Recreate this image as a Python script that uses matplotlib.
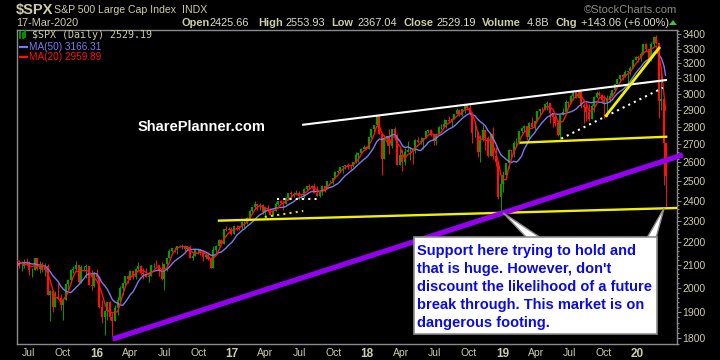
import numpy as np
import pandas as pd
import matplotlib
matplotlib.use('Agg')
import matplotlib.pyplot as plt
import matplotlib.dates as mdates
from matplotlib.patches import Rectangle, Polygon
from matplotlib.lines import Line2D

plt.rcParams['font.family'] = ['Liberation Sans', 'DejaVu Sans']

W, H = 720, 360
TAN = '#cdcda6'
FRAME = '#8a8a8a'
GREEN = '#00a000'
RED = '#ff1010'
BLUE = '#7a7af0'

# $SPX weekly bars (week ending Friday)
close_pre = [2061, 2067, 2102, 2081, 2117, 2108, 2116, 2123, 2126, 2107]
high_pre = [2114, 2089, 2102, 2111, 2120, 2126, 2117, 2126, 2135, 2132]
low_pre = [2055, 2046, 2067, 2073, 2073, 2077, 2067, 2099, 2120, 2099]

close_2015 = [2092, 2094, 2110, 2101, 2077, 2077, 2127, 2079, 2104, 2078, 2092, 1971, 1989, 1921, 1961,
              1958, 1931, 1951, 2015, 2033, 2075, 2079, 2099, 2023, 2089, 2090, 2092, 2012, 2006, 2061]
high_2015 = [2121, 2115, 2126, 2130, 2115, 2083, 2128, 2128, 2114, 2113, 2105, 2103, 1990, 1986, 1988,
             2021, 1974, 1952, 2020, 2034, 2080, 2094, 2116, 2100, 2097, 2095, 2104, 2090, 2077, 2067]
low_2015 = [2085, 2072, 2084, 2097, 2056, 2044, 2075, 2077, 2063, 2067, 2052, 1970, 1867, 1903, 1921,
            1953, 1909, 1872, 1953, 1990, 2019, 2062, 2077, 2022, 2019, 2070, 2042, 2011, 1993, 2005]

close_2016 = [2044, 1922, 1880, 1907, 1940, 1880, 1865, 1918, 1948, 2000, 2022, 2050, 2036, 2073, 2048,
              2081, 2092, 2065, 2057, 2047, 2052, 2099, 2099, 2096, 2071, 2037, 2103, 2130, 2162, 2175,
              2174, 2183, 2184, 2184, 2169, 2180, 2128, 2139, 2165, 2168, 2153, 2133, 2141, 2126, 2085,
              2164, 2182, 2213, 2192, 2260, 2258, 2264, 2239]
high_2016 = [2081, 2038, 1950, 1908, 1940, 1947, 1896, 1930, 1962, 2009, 2022, 2052, 2056, 2075, 2076,
             2084, 2111, 2099, 2083, 2085, 2067, 2100, 2105, 2120, 2097, 2113, 2104, 2131, 2169, 2176,
             2178, 2183, 2188, 2193, 2187, 2184, 2187, 2150, 2175, 2175, 2169, 2163, 2153, 2151, 2133,
             2182, 2189, 2214, 2214, 2260, 2278, 2270, 2273]
low_2016 = [2043, 1918, 1857, 1812, 1872, 1872, 1810, 1871, 1891, 1932, 1969, 2011, 2022, 2032, 2039,
            2039, 2073, 2053, 2039, 2046, 2026, 2053, 2085, 2095, 2051, 2033, 1992, 2074, 2132, 2155,
            2155, 2147, 2178, 2170, 2160, 2165, 2127, 2119, 2136, 2145, 2142, 2115, 2124, 2120, 2084,
            2084, 2151, 2183, 2187, 2192, 2253, 2258, 2234]

close_2017 = [2277, 2275, 2271, 2295, 2297, 2316, 2351, 2367, 2383, 2373, 2378, 2344, 2363, 2355, 2329,
              2349, 2384, 2399, 2391, 2382, 2416, 2439, 2432, 2433, 2438, 2423, 2425, 2459, 2473, 2472,
              2477, 2441, 2426, 2443, 2477, 2461, 2500, 2502, 2519, 2549, 2553, 2575, 2581, 2588, 2582,
              2579, 2602, 2642, 2652, 2675, 2684, 2674]
high_2017 = [2282, 2279, 2276, 2300, 2299, 2319, 2352, 2368, 2401, 2385, 2390, 2385, 2371, 2378, 2363,
             2362, 2392, 2399, 2404, 2406, 2418, 2440, 2447, 2446, 2453, 2450, 2434, 2464, 2477, 2484,
             2478, 2490, 2474, 2454, 2480, 2471, 2500, 2509, 2519, 2552, 2557, 2575, 2582, 2588, 2597,
             2587, 2605, 2657, 2652, 2679, 2695, 2692]
low_2017 = [2245, 2258, 2259, 2262, 2267, 2288, 2311, 2345, 2361, 2355, 2355, 2335, 2322, 2344, 2328,
            2323, 2374, 2378, 2387, 2353, 2386, 2403, 2415, 2418, 2431, 2405, 2408, 2416, 2456, 2459,
            2466, 2437, 2425, 2417, 2429, 2446, 2474, 2496, 2488, 2520, 2542, 2548, 2544, 2566, 2566,
            2557, 2576, 2598, 2605, 2652, 2676, 2673]

close_2018 = [2743, 2786, 2810, 2873, 2762, 2620, 2732, 2747, 2691, 2786, 2752, 2588, 2641, 2604, 2656,
              2670, 2670, 2663, 2728, 2713, 2721, 2735, 2779, 2780, 2755, 2718, 2760, 2801, 2802, 2819,
              2840, 2833, 2850, 2875, 2902, 2872, 2905, 2930, 2914, 2886, 2767, 2768, 2659, 2723, 2781,
              2736, 2633, 2760, 2633, 2600, 2417, 2486]
high_2018 = [2743, 2787, 2810, 2873, 2870, 2763, 2755, 2747, 2789, 2786, 2802, 2761, 2674, 2672, 2680,
             2718, 2683, 2676, 2732, 2743, 2742, 2736, 2779, 2791, 2789, 2753, 2763, 2804, 2816, 2848,
             2841, 2863, 2852, 2876, 2916, 2909, 2908, 2941, 2940, 2940, 2889, 2817, 2778, 2756, 2815,
             2784, 2747, 2760, 2800, 2685, 2608, 2520]
low_2018 = [2682, 2737, 2769, 2808, 2759, 2533, 2617, 2699, 2647, 2681, 2742, 2585, 2594, 2553, 2586,
            2666, 2612, 2594, 2652, 2707, 2701, 2676, 2735, 2765, 2749, 2698, 2698, 2770, 2787, 2800,
            2796, 2830, 2802, 2850, 2884, 2864, 2868, 2886, 2903, 2874, 2710, 2742, 2628, 2603, 2717,
            2671, 2631, 2649, 2621, 2583, 2409, 2346]

close_2019 = [2532, 2596, 2671, 2665, 2707, 2708, 2776, 2793, 2804, 2743, 2822, 2801, 2834, 2893, 2907,
              2905, 2940, 2946, 2881, 2860, 2826, 2752, 2873, 2887, 2950, 2942, 2990, 3014, 2977, 3026,
              2932, 2919, 2889, 2847, 2926, 2979, 3007, 2992, 2962, 2952, 2970, 2986, 3023, 3067, 3093,
              3120, 3110, 3141, 3146, 3169, 3221, 3240]
high_2019 = [2553, 2598, 2675, 2671, 2717, 2738, 2776, 2793, 2813, 2808, 2830, 2860, 2838, 2894, 2910,
             2918, 2940, 2954, 2938, 2875, 2875, 2841, 2876, 2911, 2964, 2958, 2995, 3014, 3018, 3028,
             3027, 2945, 2943, 2939, 2940, 2985, 3021, 3022, 3003, 2993, 2993, 3008, 3027, 3067, 3097,
             3120, 3127, 3154, 3146, 3183, 3226, 3247]
low_2019 = [2444, 2525, 2570, 2613, 2631, 2688, 2703, 2764, 2774, 2723, 2738, 2800, 2785, 2850, 2872,
            2896, 2900, 2900, 2825, 2801, 2805, 2750, 2728, 2874, 2883, 2912, 2952, 2966, 2975, 2973,
            2914, 2822, 2834, 2834, 2853, 2891, 2973, 2990, 2946, 2855, 2892, 2952, 2992, 3014, 3066,
            3078, 3091, 3117, 3070, 3124, 3183, 3223]

# last entry is the partial week Mar 16-17
close_2020 = [3235, 3265, 3330, 3295, 3226, 3328, 3380, 3338, 2954, 2972, 2711, 2529]
high_2020 = [3259, 3275, 3330, 3338, 3285, 3347, 3385, 3393, 3259, 3137, 2882, 2563]
low_2020 = [3210, 3214, 3263, 3280, 3214, 3216, 3315, 3328, 2856, 2901, 2478, 2367]

# trendlines drawn on the chart: (date, price) -> (date, price)
white_line = [('2017-07-09', 2813), ('2020-03-21', 3090)]
white_dotted = [('2019-06-09', 2733), ('2020-03-10', 3040)]
white_dotted_2017 = [('2017-05-02', 2409), ('2017-08-26', 2409)]
yellow_support = [('2016-11-23', 2302), ('2020-04-17', 2364)]
yellow_mid = [('2019-02-17', 2710), ('2020-03-22', 2744)]
yellow_steep = [('2019-10-06', 2861), ('2020-03-02', 3311)]
yellow_dotted_2017 = [('2017-03-30', 2320), ('2017-07-12', 2349)]
purple_line = [('2016-02-13', 1797), ('2020-05-03', 2642)]
callout_targets = [('2019-01-03', 2340), ('2020-03-13', 2363)]

y_ticks = list(range(1800, 3500, 100))
x_tick_dates = ['2015-07-01', '2015-10-01', '2016-01-01', '2016-04-01', '2016-07-01', '2016-10-01',
                '2017-01-01', '2017-04-01', '2017-07-01', '2017-10-01', '2018-01-01', '2018-04-01',
                '2018-07-01', '2018-10-01', '2019-01-01', '2019-04-01', '2019-07-01', '2019-10-01',
                '2020-01-01']
x_tick_labels = ['Jul', 'Oct', '16', 'Apr', 'Jul', 'Oct', '17', 'Apr', 'Jul', 'Oct', '18', 'Apr',
                 'Jul', 'Oct', '19', 'Apr', 'Jul', 'Oct', '20']

note_lines = ["Support here trying to hold and", "that is huge. However, don't",
              "discount the likelihood of a future", "break through. This market is on",
              "dangerous footing."]

close = close_pre + close_2015 + close_2016 + close_2017 + close_2018 + close_2019 + close_2020
high = high_pre + high_2015 + high_2016 + high_2017 + high_2018 + high_2019 + high_2020
low = low_pre + low_2015 + low_2016 + low_2017 + low_2018 + low_2019 + low_2020
dates = pd.date_range('2015-03-27', periods=len(close) - 1, freq='W-FRI').append(
    pd.DatetimeIndex(['2020-03-17']))

s = pd.Series(close, index=dates, dtype=float)
ma50 = s.rolling('70D').mean()
ma20 = s.rolling('28D').mean()

close_a = np.array(close, dtype=float)
open_a = np.concatenate([[close_a[0]], close_a[:-1]])
hi_a = np.maximum(np.array(high, dtype=float), np.maximum(open_a, close_a))
lo_a = np.minimum(np.array(low, dtype=float), np.minimum(open_a, close_a))
cols = np.where(close_a >= open_a, GREEN, RED)
xd = mdates.date2num(dates)


def dn(d):
    return mdates.date2num(pd.Timestamp(d))


def fpx(x, y):
    # image pixel (from top-left) -> figure fraction
    return (x / W, 1 - y / H)


fig = plt.figure(figsize=(W / 100, H / 100), dpi=100, facecolor='black')
ax = fig.add_axes([16.5 / W, 1 - 344 / H, (677 - 16.5) / W, (344 - 29.5) / H])
ax.set_facecolor('black')
ax.set_yscale('log')

# candles
ax.vlines(xd, lo_a, hi_a, colors=cols, lw=0.7, zorder=2)
ax.vlines(xd, open_a, close_a, colors=cols, lw=1.6, zorder=2)

# moving averages
ax.plot(xd, ma50.values, color=BLUE, lw=1.0, zorder=3)
ax.plot(xd, ma20.values, color=RED, lw=1.0, zorder=3)


def trend(pts, color, lw, ls='-', clip=True, z=4):
    (d0, p0), (d1, p1) = pts
    ax.plot([dn(d0), dn(d1)], [p0, p1], color=color, lw=lw, ls=ls, clip_on=clip,
            solid_capstyle='butt', dash_capstyle='butt', zorder=z)


trend(white_line, 'white', 1.5)
trend(white_dotted, 'white', 1.5, ls=(0, (1, 2)))
trend(white_dotted_2017, 'white', 1.5, ls=(0, (1, 2)))
trend(yellow_support, '#f0f000', 1.7)
trend(yellow_mid, '#f0f000', 1.7)
trend(yellow_steep, '#f0f000', 2.0)
trend(yellow_dotted_2017, '#e0e000', 1.5, ls=(0, (1, 2)))
trend(purple_line, '#9400f0', 3.8, clip=False, z=5)

ax.set_xlim(dn('2015-05-29'), dn('2020-04-17'))
ax.set_ylim(1778.5, 3434)

for sp in ax.spines.values():
    sp.set_color(FRAME)
    sp.set_linewidth(1.0)

ax.yaxis.tick_right()
ax.set_yticks(y_ticks)
ax.set_yticklabels([str(v) for v in y_ticks])
ax.set_yticks([v for v in range(1780, 3440, 20) if v % 100], minor=True)
ax.yaxis.set_minor_formatter(matplotlib.ticker.NullFormatter())
ax.tick_params(axis='y', which='major', length=3, width=0.8, color=FRAME,
               labelsize=7.5, labelcolor=TAN, pad=1)
ax.tick_params(axis='y', which='minor', length=1.5, width=0.8, color=FRAME)

ax.set_xticks([dn(d) for d in x_tick_dates])
ax.set_xticklabels(x_tick_labels)
ax.tick_params(axis='x', length=0, labelsize=7.5, labelcolor=TAN, pad=3)
for lbl in ax.get_xticklabels():
    if lbl.get_text().isdigit():
        lbl.set_fontweight('bold')
        lbl.set_fontsize(8.5)

# header
fig.text(*fpx(16, 14), '$SPX', fontsize=10.5, fontweight='bold', color=TAN, va='baseline')
fig.text(*fpx(54, 13), 'S&P 500 Large Cap Index', fontsize=7.6, color=TAN, va='baseline')
fig.text(*fpx(182, 13), 'INDX', fontsize=7.6, color=TAN, va='baseline')
fig.text(*fpx(16, 26), '17-Mar-2020', fontsize=7.8, color=TAN, va='baseline')
fig.text(*fpx(677, 13), '\u00a9StockCharts.com', fontsize=8, color='#8c8c84', va='baseline', ha='right')

header_pieces = [(182, 'Open', True), (210, '2425.66', False), (258, 'High', True),
                 (286, '2553.93', False), (331, 'Low', True), (357, '2367.04', False),
                 (403, 'Close', True), (437, '2529.19', False), (482, 'Volume', True),
                 (527, '4.8B', False), (556, 'Chg', True), (581, '+143.06 (+6.00%)', False)]
for xp, txt, bold in header_pieces:
    fig.text(*fpx(xp, 26), txt, fontsize=7.9, color=TAN if bold else '#dcdccc',
             fontweight='bold' if bold else 'normal', va='baseline')
fig.patches.append(Polygon([fpx(669, 25), fpx(677, 25), fpx(673, 20)], closed=True,
                           transform=fig.transFigure, facecolor='#40c040', edgecolor='none'))

# legend inside panel
for xi, (a, b) in zip([20, 22.5, 25], [(31.5, 37.5), (32.5, 38), (31, 36.5)]):
    fig.lines.append(Line2D([xi / W, xi / W], [1 - a / H, 1 - b / H], transform=fig.transFigure,
                            color=GREEN, lw=1.3))
fig.text(*fpx(32, 35.3), '$SPX (Daily) 2529.19', fontsize=7.2, family='DejaVu Sans Mono',
         color=TAN, va='center')
fig.lines.append(Line2D([20 / W, 27 / W], [1 - 46.7 / H] * 2, transform=fig.transFigure, color=BLUE, lw=1.6))
fig.text(*fpx(29, 46.7), 'MA(50) 3166.31', fontsize=7.2, color=BLUE, va='center')
fig.lines.append(Line2D([20 / W, 27 / W], [1 - 57.3 / H] * 2, transform=fig.transFigure, color=RED, lw=1.6))
fig.text(*fpx(29, 57.3), 'MA(20) 2959.89', fontsize=7.2, color=RED, va='center')

fig.text(*fpx(138, 126.7), 'SharePlanner.com', fontsize=10.5, fontweight='bold', color='white', va='center')

# callout box with pointers
inv = fig.transFigure.inverted()
bases = [(527, 541), (647, 656)]
for (d, p), (b0, b1) in zip(callout_targets, bases):
    tip = inv.transform(ax.transData.transform((dn(d), p)))
    fig.patches.append(Polygon([tip, fpx(b0, 238), fpx(b1, 238)], closed=True, transform=fig.transFigure,
                               facecolor='white', edgecolor='#8c8c8c', lw=1.0, zorder=6))
x0, y0 = fpx(414, 334)
x1, y1 = fpx(657, 237)
fig.patches.append(Rectangle((x0, y0), x1 - x0, y1 - y0, transform=fig.transFigure,
                             facecolor='white', edgecolor='#8c8c8c', lw=1.2, zorder=7))
for i, line in enumerate(note_lines):
    fig.text(*fpx(417, 255 + 18 * i), line, fontsize=10.5, fontweight='bold',
             color='#0a0ae6', va='baseline', zorder=8)

fig.savefig('out.png', dpi=100, facecolor='black')
